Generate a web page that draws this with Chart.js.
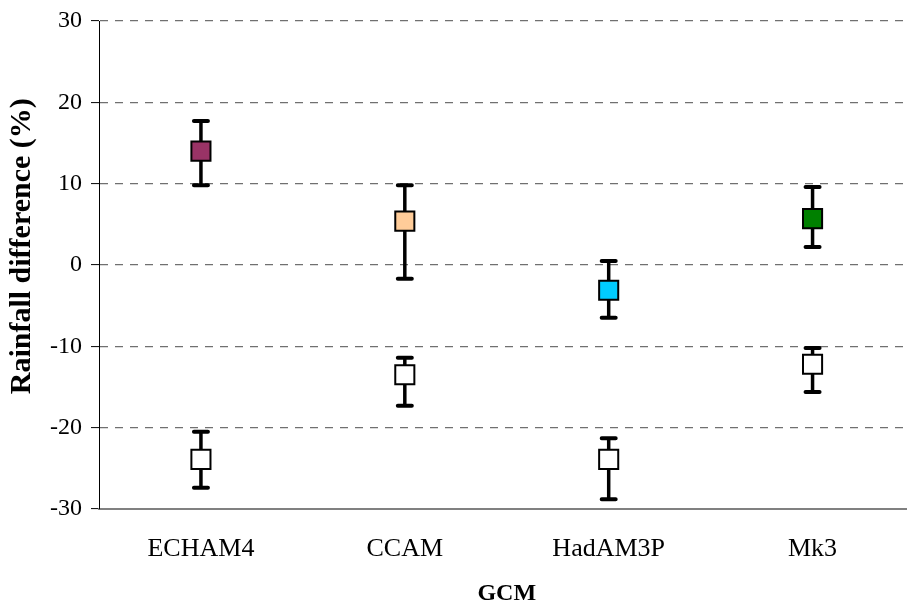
<!DOCTYPE html>
<html>
<head>
<meta charset="utf-8">
<script src="https://cdn.jsdelivr.net/npm/chart.js@4"></script>
<style>
  html, body { margin: 0; padding: 0; background: #fff; overflow: hidden; }
  #wrap { width: 930px; height: 608px; }
</style>
</head>
<body>
<div id="wrap"><canvas id="gcmChart" width="930" height="608"></canvas></div>
<script>
/* rainfall difference by GCM - means with error bars */
(function(){
  'use strict';

  const categories = ['ECHAM4', 'CCAM', 'HadAM3P', 'Mk3'];
  const yTicks = [-30, -20, -10, 0, 10, 20, 30];

  // upper group (coloured markers)
  const upperMean = [14.0, 5.4, -3.1, 5.7];
  const upperHigh = [17.7, 9.8, 0.5, 9.6];
  const upperLow  = [9.8, -1.7, -6.5, 2.2];
  const upperColors = ['#993366', '#FFCC99', '#00CCFF', '#008000'];

  // lower group (white markers)
  const lowerMean = [-23.9, -13.5, -23.9, -12.2];
  const lowerHigh = [-20.5, -11.4, -21.3, -10.2];
  const lowerLow  = [-27.4, -17.3, -28.8, -15.6];

  const serif = "'Liberation Serif', 'Times New Roman', serif";

  // draws whiskers using the chart's own scales
  const errorBars = {
    id: 'errorBars',
    beforeDatasetsDraw(chart){
      const ctx = chart.ctx;
      const y = chart.scales.y;
      chart.data.datasets.forEach((ds, di) => {
        const meta = chart.getDatasetMeta(di);
        meta.data.forEach((pt, i) => {
          const top = y.getPixelForValue(ds.errHigh[i]);
          const bot = y.getPixelForValue(ds.errLow[i]);
          const x = pt.x;
          ctx.save();
          ctx.strokeStyle = '#000';
          ctx.lineWidth = 3.5;
          ctx.beginPath();
          ctx.moveTo(x, top);
          ctx.lineTo(x, bot);
          ctx.stroke();
          ctx.lineWidth = 4;
          ctx.lineCap = 'round';
          ctx.beginPath();
          ctx.moveTo(x - 7, top); ctx.lineTo(x + 7, top);
          ctx.moveTo(x - 7, bot); ctx.lineTo(x + 7, bot);
          ctx.stroke();
          ctx.restore();
        });
      });
    }
  };

  const canvas = document.getElementById('gcmChart');
  new Chart(canvas.getContext('2d'), {
    type: 'line',
    data: {
      labels: categories,
      datasets: [
        {
          label: 'Upper',
          data: upperMean,
          errHigh: upperHigh,
          errLow: upperLow,
          showLine: false,
          pointStyle: 'rect',
          pointRadius: 13.5,
          pointBackgroundColor: upperColors,
          pointBorderColor: '#000',
          pointBorderWidth: 2
        },
        {
          label: 'Lower',
          data: lowerMean,
          errHigh: lowerHigh,
          errLow: lowerLow,
          showLine: false,
          pointStyle: 'rect',
          pointRadius: 13.5,
          pointBackgroundColor: '#fff',
          pointBorderColor: '#000',
          pointBorderWidth: 2
        }
      ]
    },
    options: {
      responsive: false,
      animation: false,
      layout: { padding: { top: 21, right: 13, left: 0, bottom: 0 } },
      plugins: { legend: { display: false }, tooltip: { enabled: false } },
      scales: {
        x: {
          type: 'category',
          offset: true,
          grid: { display: false, drawTicks: false },
          border: { display: true, color: '#808080', width: 2 },
          ticks: { color: '#000', padding: 25, font: { family: serif, size: 26 } },
          title: { display: true, text: 'GCM', color: '#000', padding: { top: 0, bottom: 0 },
                   font: { family: serif, size: 24, weight: 'bold' } },
          afterFit(scale){ scale.height = 99; }
        },
        y: {
          min: -30,
          max: 30,
          afterBuildTicks(scale){ scale.ticks = yTicks.map(v => ({ value: v })); },
          grid: { color: '#707070', lineWidth: 1.2, tickColor: '#000', tickLength: 8, tickWidth: 1 },
          border: { display: true, color: '#000', width: 1, dash: [8, 7] },
          ticks: { color: '#000', padding: 9, font: { family: serif, size: 24 } },
          // leading spaces nudge the rotated title upward like the original
          title: { display: true, text: '     Rainfall difference (%)', color: '#000', padding: { top: 4, bottom: 0 },
                   font: { family: serif, size: 30, weight: 'bold' } },
          afterFit(scale){
            scale.width = 99;
            scale.paddingTop = 0;
            scale.paddingBottom = 0;
          }
        }
      }
    },
    plugins: [errorBars]
  });
})();
</script>
</body>
</html>
